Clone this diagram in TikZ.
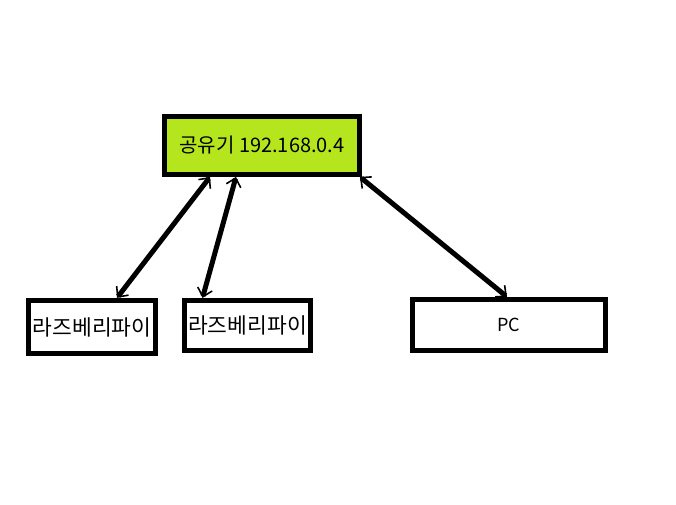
\documentclass[tikz,border=0pt]{standalone}
\usepackage{fontspec}
\setmainfont{Noto Sans CJK KR}
\usepackage{tikz}
\usetikzlibrary{positioning,arrows.meta}
\definecolor{lime}{HTML}{B5E61D}

\begin{document}
\begin{tikzpicture}[x=1pt, y=-1pt, box/.style={draw,line width=4.8pt,inner sep=0pt,font=\fontsize{21.5}{23}\selectfont},link/.style={{Straight Barb[length=8pt,width=15pt,line width=1.6pt]}-{Straight Barb[length=8pt,width=15pt,line width=1.6pt]},line width=5pt}]
            \useasboundingbox (0,0) rectangle (676,504);
            \node[box,fill=lime,minimum width=195pt,minimum height=58pt,font=\fontsize{20}{22}\selectfont] (router) at (262,145.5) {공유기 192.168.0.4};

            \node[box,minimum width=127.5pt,minimum height=53.5pt] (rpi1) at (92,327) {라즈베리파이};
            \node[box,minimum width=126.5pt,minimum height=50.5pt] (rpi2) at (247.5,325.5) {라즈베리파이};
            \node[box,minimum width=193.5pt,minimum height=51.5pt,font=\fontsize{18}{20}\selectfont] (pc) at (509,325) {PC};

            \draw[link] ([xshift=-52pt]router.south) -- ([xshift=25pt]rpi1.north);
            \draw[link] ([xshift=-26pt]router.south) -- ([xshift=-45pt]rpi2.north);
            \draw[link] ([xshift=-2pt]router.south east) -- ([xshift=-2pt]pc.north);
          \end{tikzpicture}
\end{document}
